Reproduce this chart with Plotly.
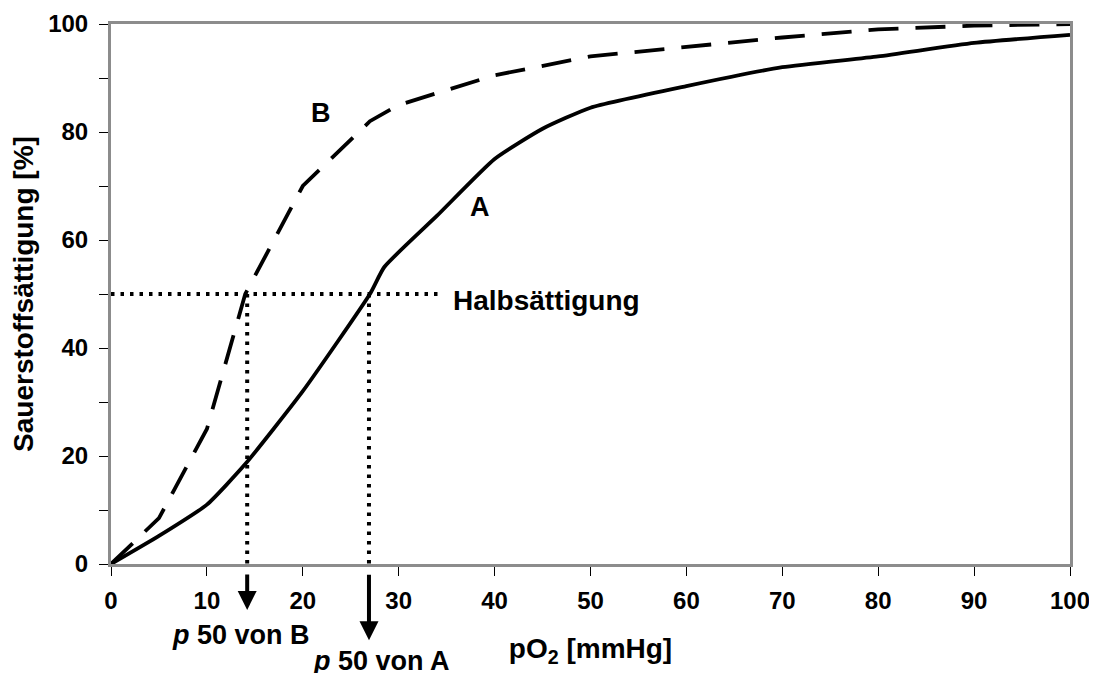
import plotly.graph_objects as go

# Oxygen dissociation curves
po2_a = [0, 5, 10, 14, 20, 27, 28.5, 34, 40, 45, 50, 60, 70, 80, 90, 100]
sat_a = [0, 5.2, 11, 18.5, 32, 50, 55, 64.5, 75, 80.6, 84.5, 88.5, 92, 94, 96.5, 98]

po2_b = [0, 5, 10, 14, 20, 27, 30, 40, 50, 60, 70, 80, 90, 100]
sat_b = [0, 8.5, 25, 50, 70, 82, 85, 90.5, 94, 95.8, 97.5, 99, 99.7, 100]

half_sat = 50
p50_b = 14.2
p50_a = 26.9
guide_end = 34.3

x_ticks = list(range(0, 101, 10))
y_ticks = list(range(0, 101, 10))
y_ticktext = [str(v) if v % 20 == 0 else '' for v in y_ticks]

FONT = "Liberation Sans, Arial, sans-serif"
GRAY = '#8c8c8c'

fig = go.Figure()

# dotted guide lines
dot = dict(color='black', width=4, dash='3.5px,6px')
fig.add_trace(go.Scatter(x=[0, guide_end], y=[half_sat, half_sat], mode='lines', line=dot))
fig.add_trace(go.Scatter(x=[p50_b, p50_b], y=[half_sat, 0], mode='lines', line=dot))
fig.add_trace(go.Scatter(x=[p50_a, p50_a], y=[half_sat, 0], mode='lines', line=dot))

# curves
fig.add_trace(go.Scatter(x=po2_a, y=sat_a, mode='lines', name='A',
                         line=dict(color='black', width=3.8, shape='spline', smoothing=0.5)))
fig.add_trace(go.Scatter(x=po2_b, y=sat_b, mode='lines', name='B',
                         line=dict(color='black', width=3.8, dash='30px,17px')))

# labels
def label(x, y, text, size=27, xanchor='center', yref='y'):
    fig.add_annotation(x=x, y=y, text=text, showarrow=False, xref='x', yref=yref,
                       xanchor=xanchor, yanchor='middle',
                       font=dict(family=FONT, size=size, color='black'))

label(21.9, 83.5, '<b>B</b>')
label(38.5, 66.1, '<b>A</b>')
label(35.5, 48.8, '<b>Halbsättigung</b>', size=28, xanchor='left')
label(13.6, -0.132, '<b><i>p</i> 50 von B</b>', yref='paper')
label(28.2, -0.18, '<b><i>p</i> 50 von A</b>', yref='paper')

# arrows below the x axis
for xp, tip, tail in [(p50_b, -0.085, -37), (p50_a, -0.141, -67)]:
    fig.add_annotation(x=xp, y=tip, xref='x', yref='paper', text='', showarrow=True,
                       ax=0, ay=tail, arrowhead=2, arrowsize=0.95, arrowwidth=4,
                       arrowcolor='black', standoff=0)

# the page body adds an 8px offset, margins compensate for it
fig.update_layout(
    width=1097, height=673,
    margin=dict(l=103, r=35, t=16, b=117, autoexpand=False),
    plot_bgcolor='white', paper_bgcolor='white',
    showlegend=False,
    font=dict(family=FONT, color='black', size=24),
)

fig.update_xaxes(
    range=[0, 100], tickvals=x_ticks, ticktext=[f'<b>{v}</b>' for v in x_ticks],
    showgrid=False, zeroline=False, automargin=False,
    showline=True, mirror=True, linecolor=GRAY, linewidth=3,
    ticks='outside', ticklen=9, tickwidth=1, tickcolor='black',
    tickfont=dict(family=FONT, size=24), ticklabelstandoff=4,
    title=dict(text='<b>pO<sub>2</sub> [mmHg]</b>', font=dict(family=FONT, size=28), standoff=26),
)
fig.update_yaxes(
    range=[0, 100], tickvals=y_ticks, ticktext=[f'<b>{t}</b>' if t else '' for t in y_ticktext],
    showgrid=False, zeroline=False, automargin=False,
    showline=True, mirror=True, linecolor=GRAY, linewidth=3,
    ticks='outside', ticklen=9, tickwidth=1, tickcolor='black',
    tickfont=dict(family=FONT, size=24), ticklabelstandoff=6,
    title=dict(text='<b>Sauerstoffsättigung [%]</b>', font=dict(family=FONT, size=28), standoff=12),
)

fig.write_html("out.html")
